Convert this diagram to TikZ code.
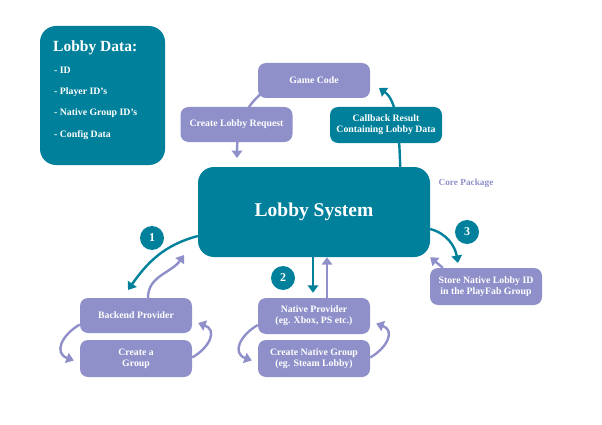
\documentclass[tikz,border=0pt]{standalone}
\usepackage{fontspec}
\setmainfont{Liberation Serif}
\usetikzlibrary{arrows.meta,backgrounds}

\definecolor{lobbyteal}{RGB}{0,128,154}
\definecolor{lobbypurple}{RGB}{143,144,201}

\begin{document}
\begin{tikzpicture}[x=1pt,y=-1pt,
  box/.style={rectangle, rounded corners=8pt, fill=lobbypurple, text=white, align=center,
    font=\fontsize{9.8}{11}\selectfont\bfseries, minimum width=112pt, minimum height=35pt, inner sep=2pt},
  tealbox/.style={box, fill=lobbyteal},
  datatext/.style={anchor=base west, inner sep=0pt, text=white, font=\fontsize{9.8}{11}\selectfont\bfseries},
  badge/.style={circle, fill=lobbyteal, text=white, minimum size=24pt, inner sep=0pt,
    font=\fontsize{12}{12}\selectfont\bfseries},
  flow/.style={line width=2.4pt, -{Triangle[length=7.5pt,width=10.5pt]}},
  tealflow/.style={flow, draw=lobbyteal},
  purpleflow/.style={flow, draw=lobbypurple}]

\useasboundingbox (0,0) rectangle (602,425);

% lobby data card
\node[tealbox, rounded corners=16pt, minimum width=125pt, minimum height=139pt] (data) at (102.5,95.5) {};
\node[datatext, font=\fontsize{15.5}{18}\selectfont\bfseries] (datatitle) at (53,51.7) {Lobby Data:};
\node[datatext] (dataid) at (54,73.3) {- ID};
\node[datatext] (dataplayer) at (54,94.5) {- Player ID's};
\node[datatext] (datanative) at (54,115.8) {- Native Group ID's};
\node[datatext] (dataconfig) at (54,137.2) {- Config Data};

% top of the flow
\node[box] (game) at (314,80.5) {Game Code};
\node[box] (request) at (236.5,124.5) {Create Lobby Request};
\node[tealbox, minimum height=36pt] (callback) at (386,125) {Callback Result\\Containing Lobby Data};

% core
\node[tealbox, rounded corners=16pt, minimum width=232pt, minimum height=90pt,
  font=\fontsize{19.5}{22}\selectfont\bfseries] (lobby) at (314,212) {Lobby System};
\node[text=lobbypurple, font=\fontsize{9.3}{10}\selectfont\bfseries] (core) at (466,183) {Core Package};

\node[badge] (one) at (152,238) {1};
\node[badge] (two) at (283,278) {2};
\node[badge] (three) at (467,232) {3};

% providers
\node[box] (backend) at (136,315.5) {Backend Provider};
\node[box, minimum height=37pt] (group) at (136,358.5) {Create a\\Group};
\node[box, minimum height=36pt] (native) at (314,316) {Native Provider\\(eg. Xbox, PS etc.)};
\node[box, minimum height=37pt] (nativegroup) at (314,358.5) {Create Native Group\\(eg. Steam Lobby)};
\node[box, minimum height=37pt] (store) at (486,286.5) {Store Native Lobby ID\\in the PlayFab Group};

\coordinate (requesttip) at (237,158);
\coordinate (callbacktip) at (379,88);
\coordinate (onetip) at (128,290);
\coordinate (backtip) at (184,255);
\coordinate (threetip) at (458,263);

\begin{pgfonlayer}{background}
\draw[purpleflow] ([xshift=4pt,yshift=5pt]game.south west) .. controls (246,106) and (237,125) .. (requesttip);
\draw[tealflow] ([xshift=-30pt]lobby.north east) .. controls (399,125) and (396,100) .. (callbacktip);
\end{pgfonlayer}

\draw[tealflow] ([yshift=-24pt]lobby.west) to[out=195,in=55] (onetip);
\draw[purpleflow] ([xshift=12pt]backend.north) to[out=90,in=235] (backtip);
\draw[purpleflow] ([yshift=-9pt]backend.west) to[out=210,in=160,looseness=1.5] ([xshift=-6pt,yshift=-2pt]group.west);
\draw[purpleflow] ([yshift=1pt]group.east) to[out=30,in=-20,looseness=1.5] ([xshift=6pt,yshift=-7.5pt]backend.east);

\draw[tealflow] ([xshift=-1pt]lobby.south) -- ([xshift=-1pt,yshift=5pt]native.north);
\draw[purpleflow] ([xshift=13pt]native.north) -- ([xshift=13pt]lobby.south);
\draw[purpleflow] ([yshift=-9pt]native.west) to[out=210,in=160,looseness=1.5] ([xshift=-6pt,yshift=-2pt]nativegroup.west);
\draw[purpleflow] ([yshift=1pt]nativegroup.east) to[out=30,in=-20,looseness=1.5] ([xshift=6pt,yshift=-7.5pt]native.east);

\draw[tealflow] ([yshift=-17pt]lobby.east) to[out=-15,in=100] (threetip);
\draw[purpleflow] ([xshift=13pt]store.north west) -- (lobby.south east);
\end{tikzpicture}
\end{document}
